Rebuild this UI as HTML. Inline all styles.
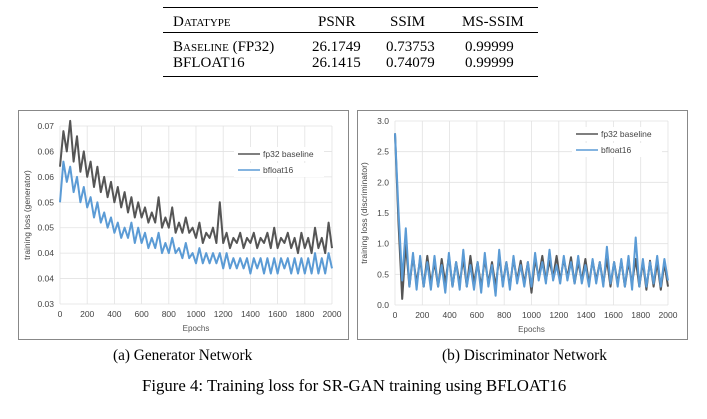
<!DOCTYPE html>
<html><head><meta charset="utf-8">
<style>
body{margin:0;width:707px;height:419px;background:#fff;overflow:hidden;position:relative;font-family:"Liberation Serif",serif}
.t{position:absolute;white-space:nowrap}
.sc{font-variant:small-caps}
.tb{font-size:15px;line-height:18px}
</style></head><body>
<div>
<div class="t" style="left:163px;top:7px;width:375px;height:1.3px;background:#000"></div>
<div class="t" style="left:163px;top:32px;width:375px;height:0.9px;background:#000"></div>
<div class="t" style="left:163px;top:76px;width:375px;height:1.3px;background:#000"></div>
<div class="t sc tb" style="left:173px;top:13px">Datatype</div>
<div class="t tb" style="left:318px;top:13px">PSNR</div>
<div class="t tb" style="left:390px;top:13px">SSIM</div>
<div class="t tb" style="left:462px;top:13px">MS-SSIM</div>
<div class="t sc tb" style="left:173px;top:38px">Baseline (FP32)</div>
<div class="t tb" style="left:312px;top:38px">26.1749</div>
<div class="t tb" style="left:386px;top:38px">0.73753</div>
<div class="t tb" style="left:465px;top:38px">0.99999</div>
<div class="t tb" style="left:173px;top:54px">BFLOAT16</div>
<div class="t tb" style="left:312px;top:54px">26.1415</div>
<div class="t tb" style="left:386px;top:54px">0.74079</div>
<div class="t tb" style="left:465px;top:54px">0.99999</div>
</div>
<svg id="svg" width="707" height="419" style="position:absolute;left:0;top:0" font-family="Liberation Sans, sans-serif"></svg>
<div class="t" style="left:113px;top:347px;font-size:15.3px">(a) Generator Network</div>
<div class="t" style="left:442px;top:347px;font-size:15.4px">(b) Discriminator Network</div>
<div class="t" style="left:142px;top:376px;font-size:16.8px">Figure 4: Training loss for SR-GAN training using BFLOAT16</div>
<script>
const xTicks=[0,200,400,600,800,1000,1200,1400,1600,1800,2000];
const genTicks=[0.03,0.035,0.04,0.045,0.05,0.055,0.06,0.065];
const genTickLabels=["0.03","0.04","0.04","0.05","0.05","0.06","0.06","0.07"];
const genFp32=[0.057,0.064,0.060,0.066,0.058,0.063,0.056,0.060,0.055,0.058,0.053,0.057,0.052,0.055,0.051,0.054,0.050,0.053,0.049,0.052,0.048,0.051,0.047,0.050,0.047,0.049,0.046,0.048,0.046,0.051,0.045,0.047,0.045,0.049,0.044,0.046,0.044,0.047,0.044,0.045,0.043,0.046,0.042,0.044,0.043,0.045,0.042,0.050,0.042,0.044,0.041,0.043,0.042,0.044,0.041,0.043,0.042,0.044,0.041,0.043,0.042,0.044,0.041,0.045,0.041,0.043,0.042,0.044,0.041,0.043,0.040,0.044,0.041,0.043,0.040,0.045,0.041,0.043,0.040,0.046,0.041];
const genBf16=[0.050,0.058,0.054,0.057,0.052,0.055,0.050,0.053,0.049,0.051,0.047,0.050,0.046,0.048,0.045,0.047,0.044,0.046,0.043,0.045,0.043,0.046,0.042,0.045,0.042,0.044,0.041,0.043,0.041,0.044,0.040,0.042,0.040,0.043,0.040,0.041,0.039,0.042,0.039,0.040,0.038,0.041,0.038,0.040,0.038,0.040,0.038,0.040,0.037,0.040,0.037,0.039,0.037,0.039,0.037,0.039,0.036,0.039,0.037,0.039,0.036,0.039,0.036,0.039,0.036,0.039,0.037,0.039,0.036,0.039,0.036,0.039,0.036,0.039,0.036,0.040,0.036,0.039,0.036,0.040,0.037];
const disTicks=[0,0.5,1,1.5,2,2.5,3];
const disTickLabels=["0.0","0.5","1.0","1.5","2.0","2.5","3.0"];
const disFp32=[2.8,1.3,0.1,1.0,0.3,0.8,0.35,0.75,0.3,0.8,0.35,0.7,0.3,0.75,0.35,0.8,0.3,0.7,0.35,0.75,0.3,0.8,0.35,0.7,0.3,0.75,0.35,0.7,0.3,0.78,0.35,0.7,0.3,0.75,0.4,0.72,0.35,0.7,0.2,0.75,0.45,0.8,0.4,0.72,0.45,0.8,0.4,0.75,0.45,0.78,0.35,0.7,0.4,0.75,0.35,0.72,0.4,0.7,0.35,0.75,0.3,0.7,0.35,0.72,0.3,0.7,0.35,0.75,0.3,0.7,0.25,0.72,0.3,0.7,0.25,0.68,0.3];
const disBf16=[2.8,1.5,0.4,1.25,0.3,0.85,0.25,0.8,0.3,0.7,0.25,0.8,0.3,0.65,0.2,0.85,0.3,0.7,0.25,0.9,0.3,0.65,0.25,0.7,0.2,0.85,0.3,0.65,0.15,0.9,0.3,0.7,0.25,0.8,0.35,0.65,0.3,0.7,0.3,0.85,0.4,0.7,0.35,0.9,0.4,0.65,0.35,0.8,0.4,0.7,0.35,0.8,0.35,0.65,0.3,0.75,0.35,0.7,0.3,0.95,0.35,0.7,0.3,0.75,0.3,0.8,0.25,1.1,0.3,0.75,0.3,0.7,0.35,0.8,0.3,0.75,0.4];
const NS="http://www.w3.org/2000/svg";
const svg=document.getElementById('svg');
function mk(tag,attrs,parent){const e=document.createElementNS(NS,tag);for(const k in attrs)e.setAttribute(k,attrs[k]);(parent||svg).appendChild(e);return e;}
function chart(o){
 const g=mk('g',{});
 
 
 const fr=mk('rect',{x:o.fx,y:o.fy,width:o.fw,height:o.fh,fill:'#fff',stroke:'#888','stroke-width':1},g);
 
 
 const X=v=>o.x0+(v-0)/2000*(o.x1-o.x0);
 const Y=v=>o.y1-(v-o.ymin)/(o.ymax-o.ymin)*(o.y1-o.y0);
 xTicks.forEach(t=>{mk('line',{x1:X(t),x2:X(t),y1:o.y0,y2:o.y1,stroke:'#e2e2e2','stroke-width':0.8},g);
  const tx=mk('text',{x:X(t),y:o.y1+13,'font-size':8.5,'text-anchor':'middle',fill:'#444'},g);tx.textContent=t;
  });
 o.yt.forEach((t,i)=>{mk('line',{x1:o.x0,x2:o.x1,y1:Y(t),y2:Y(t),stroke:'#e2e2e2','stroke-width':0.8},g);
  const tx=mk('text',{x:o.x0-6,y:Y(t)+3,'font-size':8.5,'text-anchor':'end',fill:'#444'},g);tx.textContent=o.yl[i];
  });
 const xt=mk('text',{x:(o.x0+o.x1)/2,y:o.y1+27,'font-size':8,'text-anchor':'middle',fill:'#555'},g);xt.textContent='Epochs';
 
 const yc=(o.y0+o.y1)/2;
 const yt=mk('text',{x:o.ytx,y:yc,'font-size':8.5,'text-anchor':'middle',fill:'#444',transform:`rotate(-90 ${o.ytx} ${yc})`},g);yt.textContent=o.ytitle;
 
 [[o.s1,'#555','fp32 baseline'],[o.s2,'#5b9bd5','bfloat16']].forEach(([s,c,n],k)=>{
  const pts=s.map((v,i)=>X(i*2000/(s.length-1)).toFixed(1)+','+Y(v).toFixed(1)).join(' ');
  const pl=mk('polyline',{points:pts,fill:'none',stroke:c,'stroke-width':2,'stroke-linejoin':'round'},g);
  
 });
 [[o.s1,'#555','fp32 baseline'],[o.s2,'#5b9bd5','bfloat16']].forEach(([s,c,n],k)=>{
  const ly=o.ly+k*16;
  mk('rect',{x:o.lx-4,y:ly-7,width:90,height:14,fill:'#fff'},g);
  const ll=mk('line',{x1:o.lx,x2:o.lx+22,y1:ly,y2:ly,stroke:c,'stroke-width':1.5},g);
  
  const lt=mk('text',{x:o.lx+25,y:ly+3,'font-size':8.5,fill:'#444'},g);lt.textContent=n;
  
 });
}
chart({name:'generator-chart',fx:18.5,fy:110.5,fw:330,fh:229,x0:60,x1:332,y0:126,y1:304,ymin:0.03,ymax:0.065,yt:genTicks,yl:genTickLabels,s1:genFp32,s2:genBf16,ytx:30,ytitle:'training loss (generator)',lx:238,ly:154});
chart({name:'discriminator-chart',fx:357.5,fy:110.5,fw:330,fh:229,x0:395,x1:668,y0:121,y1:305,ymin:0,ymax:3,yt:disTicks,yl:disTickLabels,s1:disFp32,s2:disBf16,ytx:367,ytitle:'training loss (discriminator)',lx:576,ly:134});
</script>
</body></html>
